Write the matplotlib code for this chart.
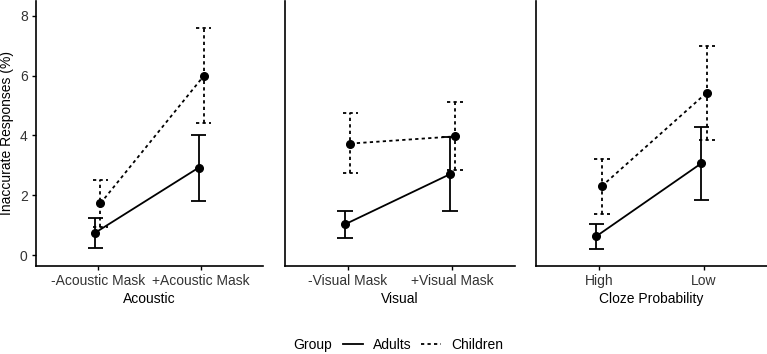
import matplotlib
matplotlib.use("Agg")
import matplotlib.pyplot as plt
import numpy as np
from matplotlib.lines import Line2D

plt.rcParams['font.family'] = ['Liberation Sans', 'DejaVu Sans']

# data
panels = ['Acoustic', 'Visual', 'Cloze Probability']
conditions = [['-Acoustic Mask', '+Acoustic Mask'],
              ['-Visual Mask', '+Visual Mask'],
              ['High', 'Low']]

adults_mean = [[0.75, 2.92], [1.03, 2.70], [0.63, 3.07]]
adults_low = [[0.25, 1.82], [0.57, 1.46], [0.19, 1.84]]
adults_high = [[1.25, 4.03], [1.46, 3.95], [1.05, 4.28]]

children_mean = [[1.73, 5.99], [3.73, 3.97], [2.30, 5.43]]
children_low = [[0.94, 4.41], [2.73, 2.85], [1.38, 3.84]]
children_high = [[2.52, 7.58], [4.75, 5.11], [3.20, 7.01]]

groups = [
    ('Adults', adults_mean, adults_low, adults_high, '-', -0.025),
    ('Children', children_mean, children_low, children_high, (0, (1.8, 1.8)), 0.025),
]

fs = 10
fig = plt.figure(figsize=(7.67, 3.54), dpi=100)
lefts = [36, 285, 536]
rights = [263, 515, 767]
bottom = 1 - 265.5 / 354
top = 1 - 1 / 354

for i in range(3):
    ax = fig.add_axes([lefts[i] / 767, bottom, (rights[i] - lefts[i]) / 767, top - bottom])
    x = np.array([1, 2])
    for name, m, lo, hi, ls, off in groups:
        xx = x + off
        ax.plot(xx, m[i], color='black', linestyle=ls, lw=1.3, marker='o', ms=5.5, zorder=3)
        ax.vlines(xx, lo[i], hi[i], color='black', linestyles=[ls], lw=1.3)
        ax.hlines(lo[i], xx - 0.075, xx + 0.075, color='black', linestyles=[ls], lw=1.3)
        ax.hlines(hi[i], xx - 0.075, xx + 0.075, color='black', linestyles=[ls], lw=1.3)
    ax.set_xlim(0.4, 2.6)
    ax.set_ylim(-0.35, 8.5)
    ax.set_xticks(x)
    ax.set_xticklabels(conditions[i])
    ax.set_xlabel(panels[i], fontsize=fs, labelpad=3)
    ax.set_yticks([0, 2, 4, 6, 8])
    for s in ['top', 'right']:
        ax.spines[s].set_visible(False)
    for s in ['left', 'bottom']:
        ax.spines[s].set_linewidth(1.2)
    ax.tick_params(labelsize=fs, width=1.0, length=3, colors='black', labelcolor='#333333', pad=3)
    if i == 0:
        ax.set_ylabel('Inaccurate Responses (%)', fontsize=fs, labelpad=4)
    else:
        ax.set_yticklabels([])
        ax.tick_params(axis='y', length=0)

fig.text(293 / 767, 1 - 345 / 354, 'Group', fontsize=fs, ha='left', va='center')
handles = [Line2D([], [], color='black', lw=1.3, linestyle=g[4]) for g in groups]
fig.legend(handles, [g[0] for g in groups], loc='center left', bbox_to_anchor=(343 / 767, 1 - 345 / 354),
           ncol=2, frameon=False, fontsize=fs, borderpad=0, borderaxespad=0,
           handlelength=1.45, handletextpad=0.7, columnspacing=0.7)

fig.savefig('out.png', dpi=100)
